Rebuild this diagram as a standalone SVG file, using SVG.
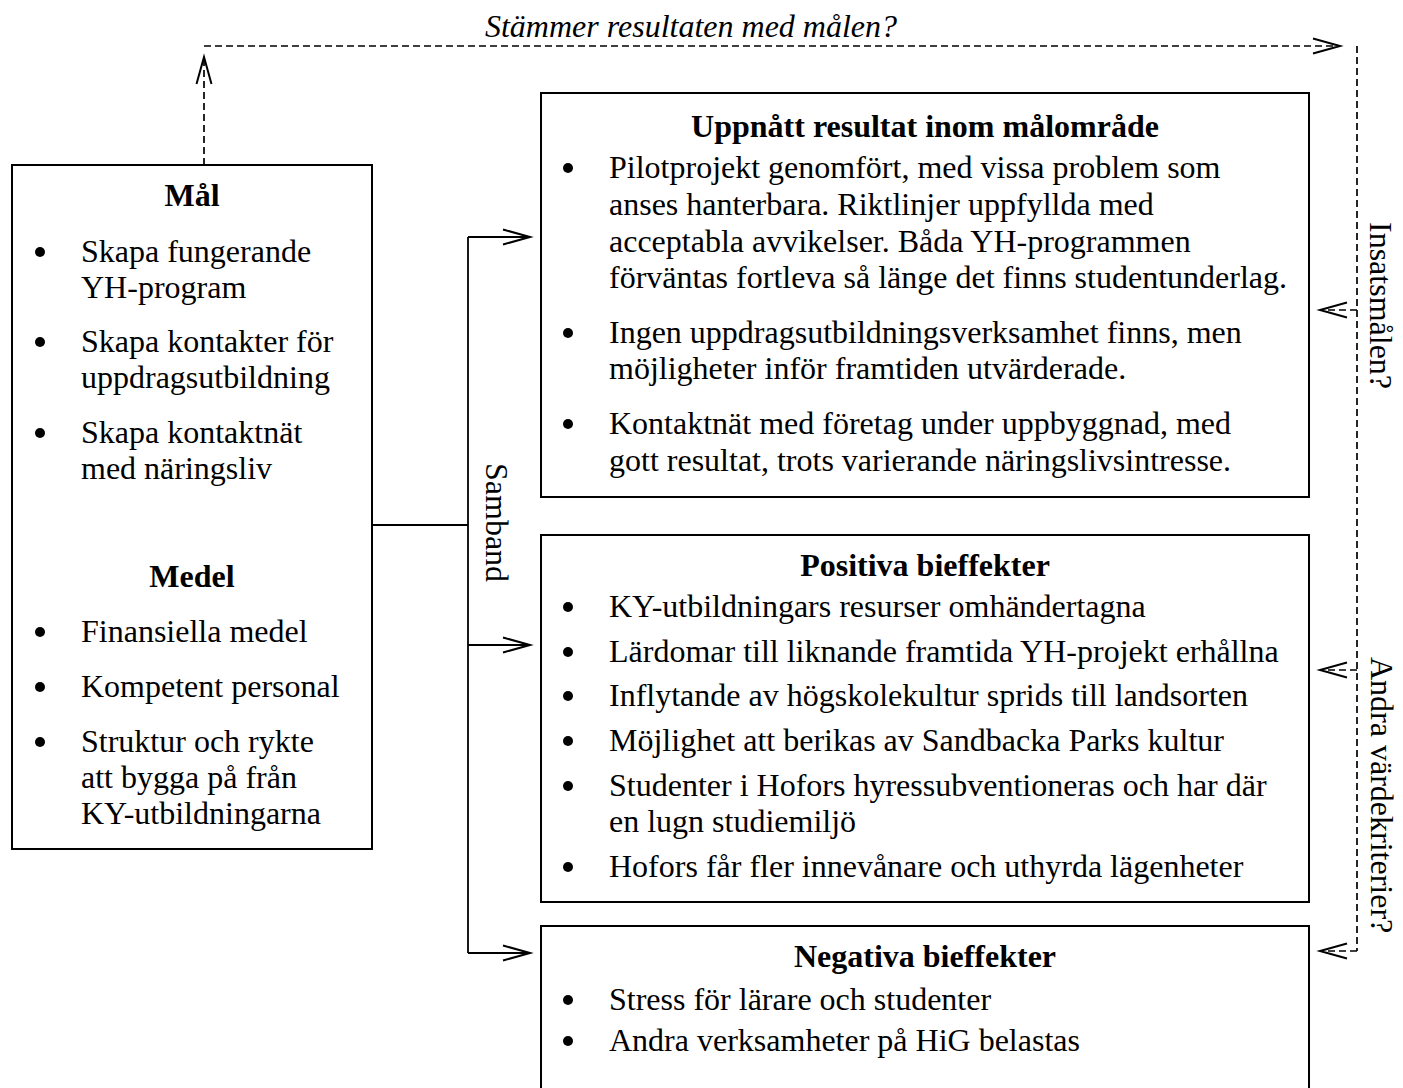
<svg xmlns="http://www.w3.org/2000/svg" width="1403" height="1088" viewBox="0 0 1403 1088">
<style>
text{font-family:"Liberation Serif","Times New Roman",serif;font-size:32px;fill:#000}
.b{font-weight:bold;text-anchor:middle}
.it{font-style:italic;text-anchor:middle}
.box{fill:#fff;stroke:#000;stroke-width:2}
.ln{fill:none;stroke:#000;stroke-width:1.8}
.dsh{fill:none;stroke:#000;stroke-width:1.7;stroke-dasharray:7 4}
.dot{fill:#000}
</style>
<defs>
<marker id="ah" markerUnits="userSpaceOnUse" markerWidth="40" markerHeight="24" viewBox="-32 -12 40 24" refX="0" refY="0" orient="auto">
<path d="M-27,-7.5 L0,0 L-27,7.5" fill="none" stroke="#000" stroke-width="2" stroke-dasharray="none"/>
</marker>
</defs>
<rect width="1403" height="1088" fill="#fff"/>

<g id="connectors">
<polyline class="ln" points="372,525 468,525"/>
<polyline class="ln" points="468,237 468,953"/>
<line class="ln" x1="468" y1="237" x2="530" y2="237" marker-end="url(#ah)"/>
<line class="ln" x1="468" y1="645" x2="530" y2="645" marker-end="url(#ah)"/>
<line class="ln" x1="468" y1="953" x2="530" y2="953" marker-end="url(#ah)"/>
<line class="dsh" x1="204" y1="165" x2="204" y2="57" marker-end="url(#ah)"/>
<line class="dsh" x1="204" y1="46" x2="1340" y2="46" marker-end="url(#ah)"/>
<line class="dsh" x1="1357" y1="46" x2="1357" y2="951"/>
<line class="dsh" x1="1357" y1="310" x2="1320" y2="310" marker-end="url(#ah)"/>
<line class="dsh" x1="1357" y1="670" x2="1320" y2="670" marker-end="url(#ah)"/>
<line class="dsh" x1="1357" y1="951" x2="1320" y2="951" marker-end="url(#ah)"/>
<text class="it" x="691" y="37">Stämmer resultaten med målen?</text>
<text transform="translate(486,463) rotate(90)">Samband</text>
<text transform="translate(1370,222) rotate(90)">Insatsmålen?</text>
<text transform="translate(1371,657) rotate(90)">Andra värdekriterier?</text>
</g>

<g id="mal">
<rect class="box" x="12" y="165" width="360" height="684"/>
<text class="b" x="192" y="206">Mål</text>
<circle class="dot" cx="40" cy="252" r="5"/>
<text x="81" y="262">Skapa fungerande</text>
<text x="81" y="298">YH-program</text>
<circle class="dot" cx="40" cy="342" r="5"/>
<text x="81" y="352">Skapa kontakter för</text>
<text x="81" y="388">uppdragsutbildning</text>
<circle class="dot" cx="40" cy="433" r="5"/>
<text x="81" y="443">Skapa kontaktnät</text>
<text x="81" y="479">med näringsliv</text>
<text class="b" x="192" y="587">Medel</text>
<circle class="dot" cx="40" cy="632" r="5"/>
<text x="81" y="642">Finansiella medel</text>
<circle class="dot" cx="40" cy="687" r="5"/>
<text x="81" y="697">Kompetent personal</text>
<circle class="dot" cx="40" cy="742" r="5"/>
<text x="81" y="752">Struktur och rykte</text>
<text x="81" y="788">att bygga på från</text>
<text x="81" y="824">KY-utbildningarna</text>
</g>

<g id="resultat">
<rect class="box" x="541" y="93" width="768" height="404"/>
<text class="b" x="925" y="137">Uppnått resultat inom målområde</text>
<circle class="dot" cx="568" cy="168" r="5"/>
<text x="609" y="178">Pilotprojekt genomfört, med vissa problem som</text>
<text x="609" y="215">anses hanterbara. Riktlinjer uppfyllda med</text>
<text x="609" y="252">acceptabla avvikelser. Båda YH-programmen</text>
<text x="609" y="288">förväntas fortleva så länge det finns studentunderlag.</text>
<circle class="dot" cx="568" cy="333" r="5"/>
<text x="609" y="343">Ingen uppdragsutbildningsverksamhet finns, men</text>
<text x="609" y="379">möjligheter inför framtiden utvärderade.</text>
<circle class="dot" cx="568" cy="424" r="5"/>
<text x="609" y="434">Kontaktnät med företag under uppbyggnad, med</text>
<text x="609" y="471">gott resultat, trots varierande näringslivsintresse.</text>
</g>

<g id="positiva">
<rect class="box" x="541" y="535" width="768" height="367"/>
<text class="b" x="925" y="576">Positiva bieffekter</text>
<circle class="dot" cx="568" cy="607" r="5"/>
<text x="609" y="617">KY-utbildningars resurser omhändertagna</text>
<circle class="dot" cx="568" cy="652" r="5"/>
<text x="609" y="662">Lärdomar till liknande framtida YH-projekt erhållna</text>
<circle class="dot" cx="568" cy="696" r="5"/>
<text x="609" y="706">Inflytande av högskolekultur sprids till landsorten</text>
<circle class="dot" cx="568" cy="741" r="5"/>
<text x="609" y="751">Möjlighet att berikas av Sandbacka Parks kultur</text>
<circle class="dot" cx="568" cy="786" r="5"/>
<text x="609" y="796">Studenter i Hofors hyressubventioneras och har där</text>
<text x="609" y="832">en lugn studiemiljö</text>
<circle class="dot" cx="568" cy="867" r="5"/>
<text x="609" y="877">Hofors får fler innevånare och uthyrda lägenheter</text>
</g>

<g id="negativa">
<rect class="box" x="541" y="926" width="768" height="180"/>
<text class="b" x="925" y="967">Negativa bieffekter</text>
<circle class="dot" cx="568" cy="1000" r="5"/>
<text x="609" y="1010">Stress för lärare och studenter</text>
<circle class="dot" cx="568" cy="1041" r="5"/>
<text x="609" y="1051">Andra verksamheter på HiG belastas</text>
</g>
</svg>
